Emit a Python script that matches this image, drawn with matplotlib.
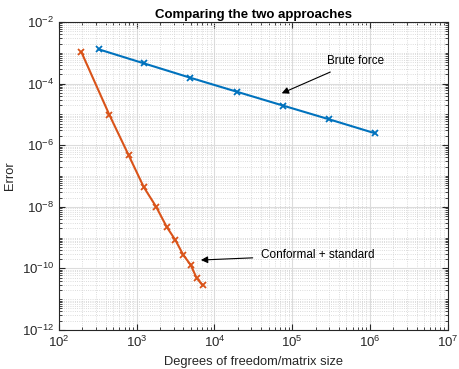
import matplotlib
matplotlib.use("Agg")
import matplotlib.pyplot as plt
from matplotlib.ticker import LogLocator, NullFormatter, FixedLocator

# brute force refinement
dof_brute = [324, 1231, 4850, 19360, 77100, 301000, 1.17e6]
err_brute = [1.3e-3, 4.56e-4, 1.56e-4, 5.46e-5, 1.92e-5, 6.9e-6, 2.43e-6]

# conformal map + standard discretisation
dof_conf = [194, 444, 789, 1231, 1780, 2440, 3140, 3990, 4950, 5900, 7060]
err_conf = [1.06e-3, 9.8e-6, 4.7e-7, 4.4e-8, 1.0e-8, 2.2e-9, 8.4e-10, 2.7e-10, 1.3e-10, 4.9e-11, 2.8e-11]

plt.rcParams['font.family'] = ['Liberation Sans', 'DejaVu Sans']
plt.rcParams['mathtext.fontset'] = 'custom'
plt.rcParams['mathtext.rm'] = 'Liberation Sans'
plt.rcParams['mathtext.it'] = 'Liberation Sans'

fig = plt.figure(figsize=(4.59, 3.69), dpi=100)
ax = fig.add_axes([0.1285, 0.1057, 0.8465, 0.8347])

ax.loglog(dof_brute, err_brute, '-x', color='#0072BD', lw=1.5, ms=5, mew=1.3)
ax.loglog(dof_conf, err_conf, '-x', color='#D95319', lw=1.5, ms=5, mew=1.3)

ax.set_xlim(1e2, 1e7)
ax.set_ylim(1e-12, 1e-2)
ax.xaxis.set_major_locator(LogLocator(base=10, numticks=10))
ax.yaxis.set_major_locator(FixedLocator([1e-12, 1e-10, 1e-8, 1e-6, 1e-4, 1e-2]))
ax.xaxis.set_minor_locator(LogLocator(base=10, subs=range(2, 10), numticks=20))
ax.yaxis.set_minor_locator(LogLocator(base=10, subs=range(1, 10), numticks=30))
ax.xaxis.set_minor_formatter(NullFormatter())
ax.yaxis.set_minor_formatter(NullFormatter())

ax.grid(True, which='major', color='#dcdcdc', lw=0.8)
ax.grid(True, which='minor', color='#d0d0d0', lw=0.6, ls=':')
ax.set_axisbelow(True)

ax.tick_params(which='both', direction='in', top=True, right=True, labelsize=9.5, colors='#262626')
ax.tick_params(which='major', length=4)
ax.tick_params(which='minor', length=2)
for s in ax.spines.values():
    s.set_color('#262626')
    s.set_linewidth(0.8)

ax.set_title('Comparing the two approaches', fontsize=9.5, fontweight='bold', pad=3)
ax.set_xlabel('Degrees of freedom/matrix size', fontsize=9.3, color='#262626')
ax.set_ylabel('Error', fontsize=9.3, color='#262626')

ax.annotate('Brute force', xy=(7.35e4, 4.84e-5), xytext=(2.8e5, 5.4e-4),
            fontsize=8.4, va='center', ha='left',
            arrowprops=dict(arrowstyle='-|>', color='black', lw=0.8, mutation_scale=10,
                            shrinkA=4, shrinkB=0))
ax.annotate('Conformal + standard', xy=(6.7e3, 1.87e-10), xytext=(3.98e4, 2.7e-10),
            fontsize=8.5, va='center', ha='left',
            arrowprops=dict(arrowstyle='-|>', color='black', lw=0.8, mutation_scale=10,
                            shrinkA=4, shrinkB=0))

fig.savefig('out.png', dpi=100)
